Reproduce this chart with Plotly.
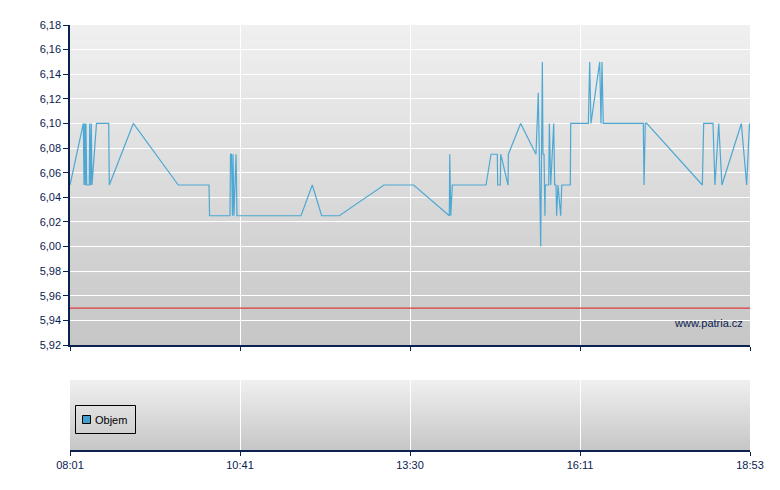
import plotly.graph_objects as go

# ---- data ----
# x positions in minutes of the day along the chart's time axis
trade_minutes = [
    481.0, 493.8, 494.4, 495.1, 495.7, 496.3, 497.0, 499.5, 499.9, 500.8,
    501.4, 502.1, 506.4, 518.1, 518.7, 541.7, 584.8, 614.3, 614.8, 634.4,
    634.9, 635.8, 636.8, 637.3, 638.2, 640.2, 641.1, 702.5, 713.3, 722.3,
    739.2, 782.1, 810.5, 844.7, 845.1, 846.1, 847.6, 879.9, 884.7, 890.7,
    891.1, 893.6, 894.0, 901.0, 901.3, 913.1, 927.8, 930.0, 931.0, 932.3,
    933.9, 934.5, 935.5, 936.4, 936.7, 940.0, 940.6, 941.9, 944.8, 945.7,
    947.0, 947.6, 948.9, 951.5, 952.5, 960.7, 961.1, 978.0, 979.3, 980.5,
    988.9, 990.1, 991.1, 992.3, 1030.7, 1031.4, 1032.6, 1034.0, 1087.3, 1088.6,
    1097.5, 1099.4, 1103.0, 1106.1, 1124.7, 1129.8, 1132.5,
]
trade_prices = [
    6.05, 6.10, 6.05, 6.10, 6.05, 6.10, 6.05, 6.05, 6.10, 6.05,
    6.10, 6.05, 6.10, 6.10, 6.05, 6.10, 6.05, 6.05, 6.025, 6.025,
    6.075, 6.075, 6.025, 6.075, 6.025, 6.075, 6.025, 6.025, 6.05, 6.025,
    6.025, 6.05, 6.05, 6.025, 6.075, 6.025, 6.05, 6.05, 6.075, 6.075,
    6.05, 6.05, 6.075, 6.05, 6.075, 6.10, 6.075, 6.125, 6.075, 6.00,
    6.15, 6.075, 6.075, 6.025, 6.05, 6.05, 6.10, 6.05, 6.10, 6.05,
    6.05, 6.025, 6.05, 6.025, 6.05, 6.05, 6.10, 6.10, 6.15, 6.10,
    6.15, 6.10, 6.15, 6.10, 6.10, 6.05, 6.10, 6.10, 6.05, 6.10,
    6.10, 6.05, 6.10, 6.05, 6.10, 6.05, 6.10,
]
reference_price = 5.95           # red line (previous close)
volume_minutes = [481.0]         # volume panel shows no bars
volume_values = [None]
volume_label = "Objem"

x_start, x_end = 481, 1133
x_tick_vals = [481, 644, 807, 970, 1133]
x_tick_text = ["08:01", "10:41", "13:30", "16:11", "18:53"]
y_min, y_max = 5.92, 6.18

NAVY = "#0b2150"
LINE = "#4ea8d3"
VOL = "#3fa0d0"

fig = go.Figure()

fig.add_trace(go.Scatter(
    x=trade_minutes, y=trade_prices, mode="lines",
    line=dict(color=LINE, width=1.2), showlegend=False,
    xaxis="x", yaxis="y", hoverinfo="skip",
))
fig.add_trace(go.Scatter(
    x=[x_start, x_end], y=[reference_price, reference_price], mode="lines",
    line=dict(color="#e03a3a", width=1.2), showlegend=False,
    xaxis="x", yaxis="y", hoverinfo="skip",
))
fig.add_trace(go.Bar(
    x=volume_minutes, y=volume_values, name=volume_label,
    marker=dict(color=VOL, line=dict(color="#000000", width=1)),
    xaxis="x2", yaxis="y2", showlegend=False,
))

H = 490
mt, mb, ml, mr = 25, 40, 70, 30
ph = H - mt - mb
pw = 780 - ml - mr
top_dom = [(450 - 345) / ph, 1.0]
bot_dom = [0.0, (450 - 380) / ph]

def px_x(p):
    return (p - ml) / pw

def px_y(p):
    return (H - mb - p) / ph

# vertical gradient backgrounds
shapes = []
def gradient(xref, yref, n, top=(0xf0, 0xf0, 0xf0), bottom=(0xc6, 0xc6, 0xc6)):
    for i in range(n):
        t = (i + 0.5) / n
        c = tuple(round(bottom[k] + (top[k] - bottom[k]) * t) for k in range(3))
        shapes.append(dict(
            type="rect", xref=xref, yref=yref, x0=0, x1=1,
            y0=i / n, y1=min(1.0, (i + 2) / n),
            fillcolor="rgb(%d,%d,%d)" % c, line=dict(width=0), layer="below",
        ))
gradient("x domain", "y domain", 64)
gradient("x2 domain", "y2 domain", 24)

# legend box for the volume panel
shapes.append(dict(type="rect", xref="paper", yref="paper",
                   x0=px_x(75.5), x1=px_x(135.5), y0=px_y(433.5), y1=px_y(405.5),
                   line=dict(color="#000000", width=1), fillcolor="rgba(0,0,0,0)"))
shapes.append(dict(type="rect", xref="paper", yref="paper",
                   x0=px_x(82.5), x1=px_x(90.5), y0=px_y(423.5), y1=px_y(415.5),
                   line=dict(color="#000000", width=1), fillcolor=VOL))

FAM = "Liberation Sans, Arial, sans-serif"
font = dict(family=FAM, size=11, color=NAVY)

fig.update_layout(
    width=780, height=490,
    margin=dict(l=ml, r=mr, t=mt, b=mb),
    paper_bgcolor="white", plot_bgcolor="rgba(0,0,0,0)",
    separators=", ",
    font=font,
    shapes=shapes,
    showlegend=False,
    xaxis=dict(
        domain=[0, 1], anchor="y", range=[x_start, x_end],
        tickvals=x_tick_vals, ticktext=x_tick_text, showticklabels=False,
        showgrid=True, gridcolor="white", gridwidth=1,
        showline=True, linecolor=NAVY, linewidth=1.5,
        ticks="outside", ticklen=4, tickcolor=NAVY, zeroline=False,
    ),
    yaxis=dict(
        domain=top_dom, anchor="x", range=[y_min, y_max],
        dtick=0.02, tick0=5.92, tickformat=".2f",
        showgrid=True, gridcolor="white", gridwidth=1,
        showline=True, linecolor=NAVY, linewidth=1.5,
        ticks="outside", ticklen=5, tickcolor=NAVY, zeroline=False,
    ),
    xaxis2=dict(
        domain=[0, 1], anchor="y2", range=[x_start, x_end],
        tickvals=x_tick_vals, ticktext=x_tick_text,
        showgrid=True, gridcolor="white", gridwidth=1,
        showline=True, linecolor=NAVY, linewidth=1.5,
        ticks="outside", ticklen=4, tickcolor=NAVY, zeroline=False,
    ),
    yaxis2=dict(
        domain=bot_dom, anchor="x2", range=[0, 1],
        showgrid=False, showticklabels=False, showline=False,
        ticks="", zeroline=False,
    ),
    annotations=[
        dict(text="www.patria.cz", xref="paper", yref="paper",
             x=px_x(745), y=px_y(323), xanchor="right", yanchor="middle",
             showarrow=False, font=dict(family=FAM, size=11, color=NAVY)),
        dict(text=volume_label, xref="paper", yref="paper",
             x=px_x(93), y=px_y(420), xanchor="left", yanchor="middle",
             showarrow=False, font=dict(family=FAM, size=11, color="#000000")),
    ],
)

fig.write_html("out.html", config={"displayModeBar": False},
               post_script="document.body.style.margin='0px';")
